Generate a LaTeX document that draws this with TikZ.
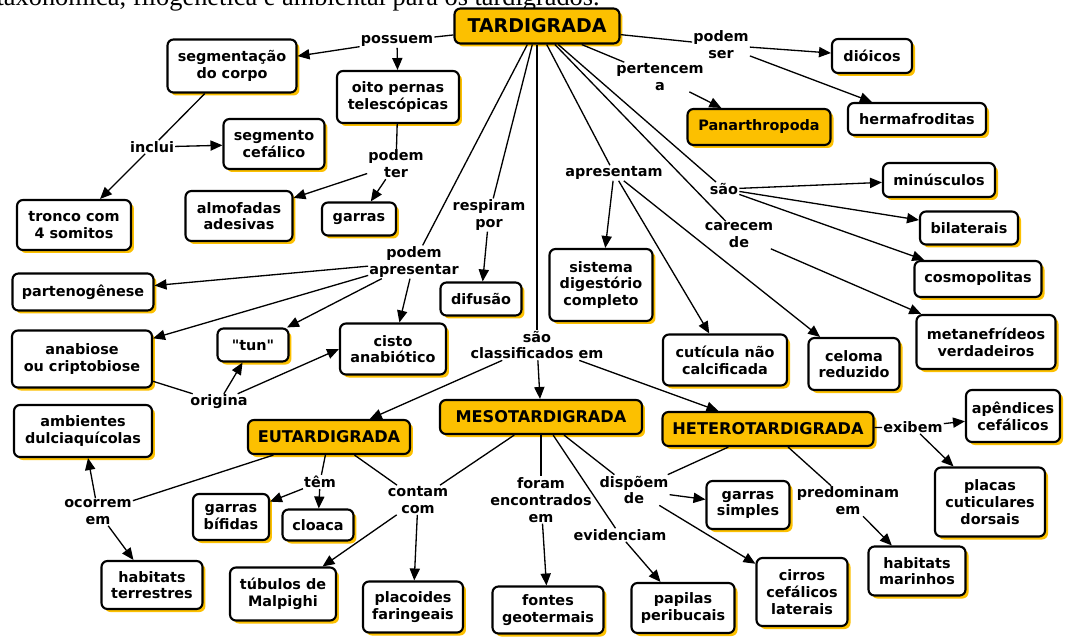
\documentclass[tikz,border=0pt]{standalone}
\usepackage{fontspec}
\setmainfont{DejaVu Sans}[Ligatures=TeXOff]
\newfontfamily\toptextfont{Liberation Serif}
\usetikzlibrary{arrows.meta,shadows}
\definecolor{tgold}{RGB}{252,192,0}
\tikzset{
  concept/.style={draw=black, line width=1.2pt, rounded corners=3.4pt, fill=white,
    align=center, inner sep=1pt, font=\bfseries\fontsize{8.2}{9.5}\selectfont,
    drop shadow={shadow xshift=1.7pt, shadow yshift=-1.7pt, fill=tgold, opacity=1}},
  yconcept/.style={concept, fill=tgold, font=\bfseries\fontsize{9.2}{10.5}\selectfont},
  lk/.style={align=center, inner sep=0.5pt, font=\bfseries\fontsize{8.2}{9.6}\selectfont},
  sz/.style 2 args={minimum width=#1*0.02cm, minimum height=#2*0.02cm},
  con/.style={line width=0.75pt, draw=black},
  arr/.style={con, -{Triangle[length=6.8pt,width=5.8pt]}},
}
\begin{document}
\begin{tikzpicture}[x=0.02cm,y=-0.02cm]
\fill[white] (0,0) rectangle (1067,637);
\useasboundingbox (0,0) rectangle (1067,637);
\node[anchor=base east, inner sep=0, font=\toptextfont\fontsize{15}{18}\selectfont] (toptext) at (600,5) {taxonômica, filogenética e ambiental para os tardígrados.};

% concepts
\node[yconcept, sz={165}{35}, font=\bfseries\fontsize{10.8}{12}\selectfont] (tard) at (537,26) {TARDIGRADA};
\node[concept, sz={129}{53}] (segm) at (232,66) {segmentação\\do corpo};
\node[concept, sz={122}{52}] (oito) at (398,97) {oito pernas\\telescópicas};
\node[concept, sz={101}{50}] (cef) at (274,144) {segmento\\cefálico};
\node[concept, sz={114}{50}] (tronco) at (74,225) {tronco com\\4 somitos};
\node[concept, sz={107}{50}] (almo) at (239,216) {almofadas\\adesivas};
\node[concept, sz={74}{33}] (garras) at (359,219) {garras};
\node[concept, sz={80}{34}] (dioicos) at (872,56) {dióicos};
\node[yconcept, sz={143}{36}, font=\bfseries\fontsize{8.2}{9.5}\selectfont] (panar) at (759,127) {Panarthropoda};
\node[concept, sz={138}{32}] (herma) at (917,119) {hermafroditas};
\node[concept, sz={112}{34}] (minus) at (939,180) {minúsculos};
\node[concept, sz={98}{33}] (bilat) at (969,228) {bilaterais};
\node[concept, sz={127}{36}] (cosmo) at (978,279) {cosmopolitas};
\node[concept, sz={139}{54}] (metan) at (986,342) {metanefrídeos\\verdadeiros};
\node[concept, sz={103}{72}] (sist) at (601,285) {sistema\\digestório\\completo};
\node[concept, sz={81}{33}] (difus) at (481,299) {difusão};
\node[concept, sz={141}{37}] (parten) at (83,292) {partenogênese};
\node[concept, sz={140}{57}] (anab) at (82,359) {anabiose\\ou criptobiose};
\node[concept, sz={71}{33}] (tun) at (253,345) {"tun"};
\node[concept, sz={106}{51}] (cisto) at (393,349) {cisto\\anabiótico};
\node[concept, sz={124}{51}] (cutic) at (725,360) {cutícula não\\calcificada};
\node[concept, sz={91}{52}] (celoma) at (854,364) {celoma\\reduzido};
\node[concept, sz={138}{52}] (ambi) at (83,431) {ambientes\\dulciaquícolas};
\node[yconcept, sz={162}{34}] (eutar) at (329,437) {EUTARDIGRADA};
\node[yconcept, sz={202}{34}] (meso) at (541,417) {MESOTARDIGRADA};
\node[yconcept, sz={211}{34}] (hetero) at (768,429) {HETEROTARDIGRADA};
\node[concept, sz={94}{52}] (apend) at (1013,416) {apêndices\\cefálicos};
\node[concept, sz={110}{69}] (placas) at (990,502) {placas\\cuticulares\\dorsais};
\node[concept, sz={76}{46}] (bifid) at (231,517) {garras\\bífidas};
\node[concept, sz={71}{31}] (cloaca) at (318,525) {cloaca};
\node[concept, sz={101}{48}] (hterr) at (152,585) {habitats\\terrestres};
\node[concept, sz={106}{53}] (tubul) at (283,594) {túbulos de\\Malpighi};
\node[concept, sz={100}{51}] (placo) at (413,607) {placoides\\faringeais};
\node[concept, sz={111}{47}] (fontes) at (548,610) {fontes\\geotermais};
\node[concept, sz={103}{50}] (papilas) at (683,608) {papilas\\peribucais};
\node[concept, sz={91}{68}] (cirros) at (802,592) {cirros\\cefálicos\\laterais};
\node[concept, sz={97}{49}] (hmar) at (917,571) {habitats\\marinhos};
\node[concept, sz={83}{48}] (gsimp) at (748,505) {garras\\simples};

% linking phrases
\node[lk] (possuem) at (397,41) {possuem};
\node[lk] (podemser) at (721,45) {podem\\ser};
\node[lk] (pertencem) at (660,77) {pertencem\\a};
\node[lk] (apresentam) at (614,173) {apresentam};
\node[lk] (sao) at (724,189) {são};
\node[lk] (carecem) at (739,235) {carecem\\de};
\node[lk] (respiram) at (489,215) {respiram\\por};
\node[lk] (podemapr) at (414,262) {podem\\apresentar};
\node[lk] (classif) at (537,345) {são\\classificados em};
\node[lk] (inclui) at (152,147) {inclui};
\node[lk] (podemter) at (396,164) {podem\\ter};
\node[lk] (origina) at (219,402) {origina};
\node[lk] (ocorrem) at (98,512) {ocorrem\\em};
\node[lk] (tem) at (320,482) {têm};
\node[lk] (contam) at (418,500) {contam\\com};
\node[lk] (foram) at (541,500) {foram\\encontrados\\em};
\node[lk] (evid) at (620,535) {evidenciam};
\node[lk] (dispoem) at (634,490) {dispõem\\de};
\node[lk] (predom) at (848,501) {predominam\\em};
\node[lk] (exibem) at (913,427) {exibem};

% connectors
\draw[con] (tard) -- (possuem);
\draw[arr] (possuem) -- (segm);
\draw[arr] (possuem) -- (oito);
\draw[con] (tard) -- (podemser);
\draw[arr] (podemser) -- (dioicos);
\draw[arr] (podemser) -- (herma);
\draw[con] (tard) -- (pertencem);
\draw[arr] (pertencem) -- (panar);
\draw[con] (tard) -- (apresentam);
\draw[arr] (apresentam) -- (sist);
\draw[arr] (apresentam) -- (cutic);
\draw[arr] (apresentam) -- (celoma);
\draw[con] (tard) -- (sao);
\draw[arr] (sao) -- (minus);
\draw[arr] (sao) -- (bilat);
\draw[arr] (sao) -- (cosmo);
\draw[con] (tard) -- (carecem);
\draw[arr] (carecem) -- (metan);
\draw[con] (tard) -- (respiram);
\draw[arr] (respiram) -- (difus);
\draw[con] (tard) -- (podemapr);
\draw[arr] (podemapr) -- (parten);
\draw[arr] (podemapr) -- (anab);
\draw[arr] (podemapr) -- (tun);
\draw[arr] (podemapr) -- (cisto);
\draw[con] (tard) -- (classif);
\draw[arr] (classif) -- (meso);
\draw[arr] (classif) -- (eutar);
\draw[arr] (classif) -- (hetero);
\draw[con] (segm) -- (inclui);
\draw[arr] (inclui) -- (tronco);
\draw[arr] (inclui) -- (cef);
\draw[con] (oito) -- (podemter);
\draw[arr] (podemter) -- (almo);
\draw[arr] (podemter) -- (garras);
\draw[con] (anab) -- (origina);
\draw[arr] (origina) -- (tun);
\draw[arr] (origina) -- (cisto.west);
\draw[con] (eutar) -- (ocorrem);
\draw[arr] (ocorrem) -- (ambi);
\draw[arr] (ocorrem) -- (hterr);
\draw[con] (eutar) -- (tem);
\draw[arr] (tem) -- (bifid);
\draw[arr] (tem) -- (cloaca);
\draw[con] (eutar) -- (contam);
\draw[con] (meso) -- (contam);
\draw[arr] (contam) -- (tubul);
\draw[arr] (contam) -- (placo);
\draw[con] (meso) -- (foram);
\draw[arr] (foram) -- (fontes);
\draw[con] (meso) -- (evid);
\draw[arr] (evid) -- (papilas);
\draw[con] (meso) -- (dispoem);
\draw[con] (hetero) -- (dispoem);
\draw[arr] (dispoem) -- (gsimp);
\draw[arr] (dispoem) -- (cirros);
\draw[con] (hetero) -- (predom);
\draw[arr] (predom) -- (hmar);
\draw[con] (hetero) -- (exibem);
\draw[arr] (exibem) -- (apend);
\draw[arr] (exibem) -- (placas);
\end{tikzpicture}
\end{document}
